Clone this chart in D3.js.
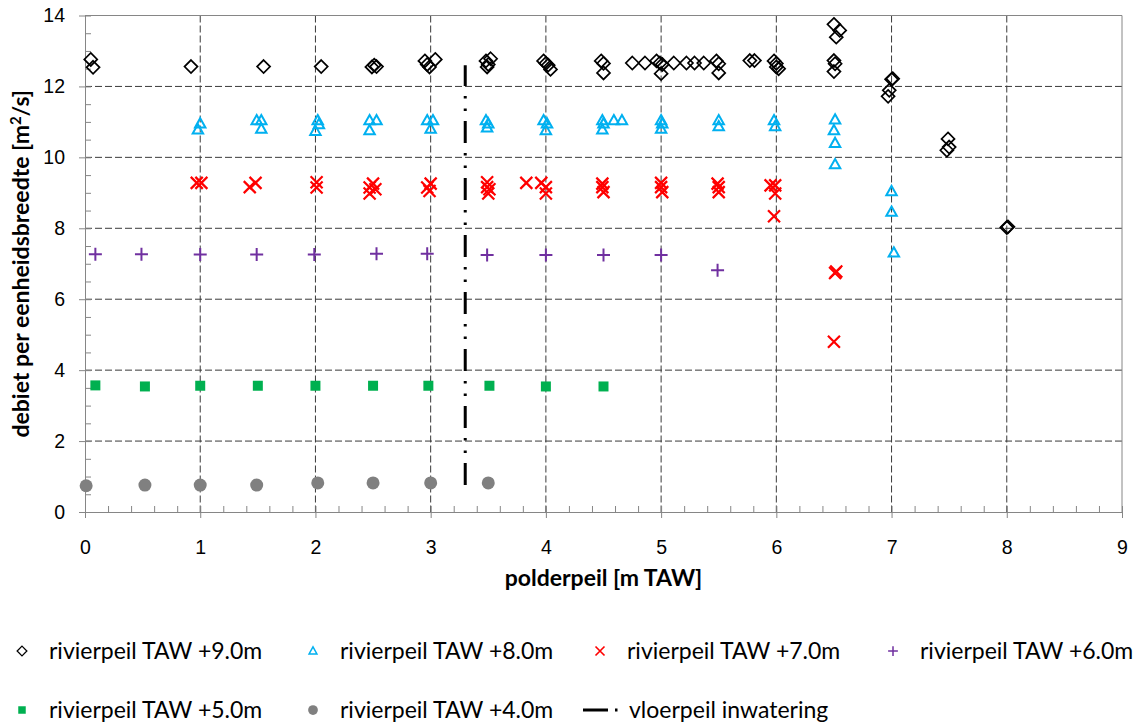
<!DOCTYPE html>
<html>
<head>
<meta charset="utf-8">
<script src="https://cdn.jsdelivr.net/npm/d3@7"></script>
<style>
  body { margin: 0; background: #fff; }
  svg { font-family: Lato, "Open Sans", sans-serif; }
  .grid line { stroke: #3a3a3a; stroke-dasharray: 7,3; stroke-width: 1; }
  .axis path, .axis line { stroke: #868686; }
  .axis text { fill: #000; font-size: 19.5px; }
  .title { font-weight: bold; font-size: 23px; fill: #000; }
  .legend text { font-size: 23px; fill: #000; }
</style>
</head>
<body>
<svg id="chart" width="1135" height="726"></svg>
<script>
// polderpeil [m TAW] vs debiet [m2/s], one list per rivierpeil
var riv90 = [
  [0.05,12.76],[0.07,12.54],[0.92,12.56],[1.55,12.56],[2.05,12.56],
  [2.49,12.55],[2.51,12.6],[2.53,12.56],
  [2.95,12.72],[2.97,12.62],[2.99,12.55],[3.04,12.76],
  [3.48,12.72],[3.5,12.62],[3.49,12.55],[3.52,12.78],
  [3.98,12.72],[4.0,12.65],[4.02,12.6],[4.04,12.48],
  [4.48,12.72],[4.5,12.65],[4.5,12.38],
  [4.75,12.66],[4.86,12.66],[4.96,12.72],[4.99,12.66],[5.01,12.62],[5.0,12.36],
  [5.11,12.66],[5.22,12.66],[5.29,12.66],[5.37,12.66],[5.48,12.72],[5.5,12.64],[5.5,12.38],
  [5.77,12.73],[5.81,12.73],
  [5.98,12.72],[6.0,12.65],[6.0,12.55],[6.02,12.5],
  [6.5,13.75],[6.55,13.58],[6.52,13.39],[6.5,12.73],[6.51,12.64],[6.5,12.42],
  [7.0,12.2],[7.01,12.22],[6.98,11.89],[6.97,11.72],
  [7.49,10.52],[7.5,10.29],[7.48,10.2],
  [8.0,8.02],[8.01,8.04]
];
var riv80 = [
  [0.98,10.78],[1.0,10.95],
  [1.49,11.04],[1.53,11.04],[1.53,10.8],
  [2.0,10.74],[2.02,11.04],[2.03,10.93],
  [2.47,10.76],[2.47,11.04],[2.53,11.04],
  [2.97,11.04],[3.0,10.8],[3.02,11.04],
  [3.48,11.04],[3.49,10.84],[3.5,10.95],
  [3.98,11.04],[4.0,10.76],[4.01,10.95],
  [4.49,11.04],[4.49,10.78],[4.5,10.95],[4.59,11.04],[4.66,11.04],
  [5.0,11.04],[5.0,10.8],[5.01,10.95],
  [5.5,11.04],[5.5,10.87],
  [5.98,11.04],[5.99,10.87],
  [6.51,11.06],[6.5,10.76],[6.51,10.4],[6.51,9.8],
  [7.0,9.04],[7.0,8.46],[7.02,7.31]
];
var riv70 = [
  [0.97,9.28],[1.01,9.28],
  [1.43,9.16],[1.48,9.28],
  [2.01,9.3],[2.01,9.15],
  [2.47,9.15],[2.5,9.26],[2.47,8.98],[2.52,9.1],
  [2.97,9.15],[3.0,9.26],[2.99,9.05],
  [3.49,9.3],[3.49,9.16],[3.5,8.98],[3.51,9.1],
  [3.83,9.28],[3.96,9.28],[4.0,9.16],[4.0,8.98],
  [4.49,9.26],[4.49,9.16],[4.5,9.02],
  [5.0,9.28],[5.0,9.16],[5.01,9.02],
  [5.49,9.26],[5.5,9.16],[5.5,9.02],
  [5.95,9.21],[5.99,9.21],[5.99,8.98],[5.98,8.34],
  [6.51,6.74],[6.52,6.78],[6.5,4.8]
];
var riv60 = [
  [0.09,7.27],[0.49,7.27],[1.0,7.26],[1.49,7.26],[1.99,7.26],[2.53,7.28],
  [2.97,7.28],[3.49,7.25],[4.0,7.25],[4.5,7.25],[5.0,7.25],[5.49,6.82]
];
var riv50 = [
  [0.09,3.57],[0.52,3.54],[1.0,3.56],[1.5,3.56],[2.0,3.56],
  [2.5,3.56],[2.98,3.56],[3.51,3.56],[4.0,3.54],[4.5,3.54]
];
var riv40 = [
  [0.01,0.74],[0.52,0.76],[1.0,0.76],[1.49,0.76],
  [2.02,0.82],[2.5,0.82],[3.0,0.82],[3.5,0.82]
];
var vloerpeil = [[3.3,0.76],[3.3,12.6]];

var xTicks = [0,1,2,3,4,5,6,7,8,9],
    yTicks = [0,2,4,6,8,10,12,14];

var margin = {top: 15.5, right: 13, bottom: 214, left: 85},
    width = 1135 - margin.left - margin.right,
    height = 726 - margin.top - margin.bottom;

var x = d3.scaleLinear().domain([0, 9]).range([0, width]),
    y = d3.scaleLinear().domain([0, 14]).range([height, 0]);

var svg = d3.select("#chart")
  .append("g")
    .attr("transform", "translate(" + margin.left + "," + margin.top + ")");

// gridlines
svg.append("g").attr("class", "grid")
  .selectAll("line").data(xTicks.slice(1, -1)).enter().append("line")
    .attr("x1", x).attr("x2", x).attr("y1", 0).attr("y2", height);
svg.append("g").attr("class", "grid")
  .selectAll("line").data(yTicks.slice(1, -1)).enter().append("line")
    .attr("y1", y).attr("y2", y).attr("x1", 0).attr("x2", width);

// plot border (top, right)
svg.append("path")
    .attr("d", "M0,0H" + width + "V" + height)
    .attr("fill", "none").attr("stroke", "#868686");

// minor ticks, inside
svg.append("g").attr("class", "axis")
    .attr("transform", "translate(0," + height + ")")
    .call(d3.axisTop(x).ticks(36).tickSize(6).tickFormat(""))
    .select(".domain").remove();
svg.append("g").attr("class", "axis")
    .call(d3.axisRight(y).ticks(35).tickSize(6).tickFormat(""))
    .select(".domain").remove();

// main axes
svg.append("g").attr("class", "axis")
    .attr("transform", "translate(0," + height + ")")
    .call(d3.axisBottom(x).tickValues(xTicks).tickSize(6).tickSizeOuter(0).tickPadding(22));
svg.append("g").attr("class", "axis")
    .call(d3.axisLeft(y).tickValues(yTicks).tickSize(6).tickSizeOuter(0).tickPadding(14));

svg.append("text").attr("class", "title")
    .attr("x", width / 2).attr("y", height + 74)
    .attr("text-anchor", "middle")
    .text("polderpeil [m TAW]");

var yt = svg.append("text").attr("class", "title")
    .attr("transform", "translate(-56," + (height / 2) + ") rotate(-90)")
    .attr("text-anchor", "middle");
yt.append("tspan").text("debiet per eenheidsbreedte [m");
yt.append("tspan").attr("dy", -8).attr("font-size", "15px").text("2");
yt.append("tspan").attr("dy", 8).text("/s]");

// marker shapes
function diamond(r) { return "M0," + (-r) + "L" + r + ",0L0," + r + "L" + (-r) + ",0Z"; }
function triangle(r) { return "M0," + (-r) + "L" + (r * 0.95) + "," + (r * 0.7) + "L" + (-r * 0.95) + "," + (r * 0.7) + "Z"; }
function cross(r) { return "M" + (-r) + "," + (-r) + "L" + r + "," + r + "M" + (-r) + "," + r + "L" + r + "," + (-r); }
function plus(r) { return "M" + (-r) + ",0H" + r + "M0," + (-r) + "V" + r; }
function square(r) { return "M" + (-r) + "," + (-r) + "H" + r + "V" + r + "H" + (-r) + "Z"; }
function circle(r) { return "M" + r + ",0A" + r + "," + r + " 0 1 1 " + (-r) + ",0A" + r + "," + r + " 0 1 1 " + r + ",0Z"; }

var series = [
  {name: "rivierpeil TAW +9.0m", data: riv90, shape: diamond(6.5), fill: "none", stroke: "#000", sw: 1.7},
  {name: "rivierpeil TAW +8.0m", data: riv80, shape: triangle(5.5), fill: "none", stroke: "#00b0f0", sw: 2},
  {name: "rivierpeil TAW +7.0m", data: riv70, shape: cross(6), fill: "none", stroke: "#ff0000", sw: 2.2},
  {name: "rivierpeil TAW +6.0m", data: riv60, shape: plus(6.5), fill: "none", stroke: "#7030a0", sw: 2},
  {name: "rivierpeil TAW +5.0m", data: riv50, shape: square(5), fill: "#00b050", stroke: "none", sw: 0},
  {name: "rivierpeil TAW +4.0m", data: riv40, shape: circle(6.5), fill: "#808080", stroke: "none", sw: 0}
];

// vloerpeil line, drawn bottom to top
svg.append("path")
    .datum(vloerpeil)
    .attr("d", d3.line().x(function(d) { return x(d[0]); }).y(function(d) { return y(d[1]); }))
    .attr("fill", "none").attr("stroke", "#000").attr("stroke-width", 3)
    .attr("stroke-dasharray", "22,10,2.5,10,2.5,10");

series.forEach(function(s) {
  svg.append("g").selectAll("path")
      .data(s.data)
    .enter().append("path")
      .attr("transform", function(d) { return "translate(" + x(d[0]) + "," + y(d[1]) + ")"; })
      .attr("d", s.shape)
      .attr("fill", s.fill).attr("stroke", s.stroke).attr("stroke-width", s.sw);
});

// legend
var legPos = [[22, 651], [313, 651], [600, 651], [893, 651], [22, 710], [313, 710]];
var legend = d3.select("#chart").append("g").attr("class", "legend");
series.forEach(function(s, i) {
  var g = legend.append("g").attr("transform", "translate(" + legPos[i][0] + "," + legPos[i][1] + ")");
  g.append("path").attr("d", s.shape).attr("fill", s.fill).attr("stroke", s.stroke)
      .attr("stroke-width", s.sw).attr("transform", "scale(0.75)");
  g.append("text").attr("x", 27).attr("dy", "0.35em").text(s.name);
});
var lg = legend.append("g").attr("transform", "translate(583,710)");
lg.append("line").attr("x1", 0).attr("x2", 36).attr("stroke", "#000").attr("stroke-width", 3)
    .attr("stroke-dasharray", "25,7,2.5,10");
lg.append("text").attr("x", 46).attr("dy", "0.35em").text("vloerpeil inwatering");
</script>
</body>
</html>
